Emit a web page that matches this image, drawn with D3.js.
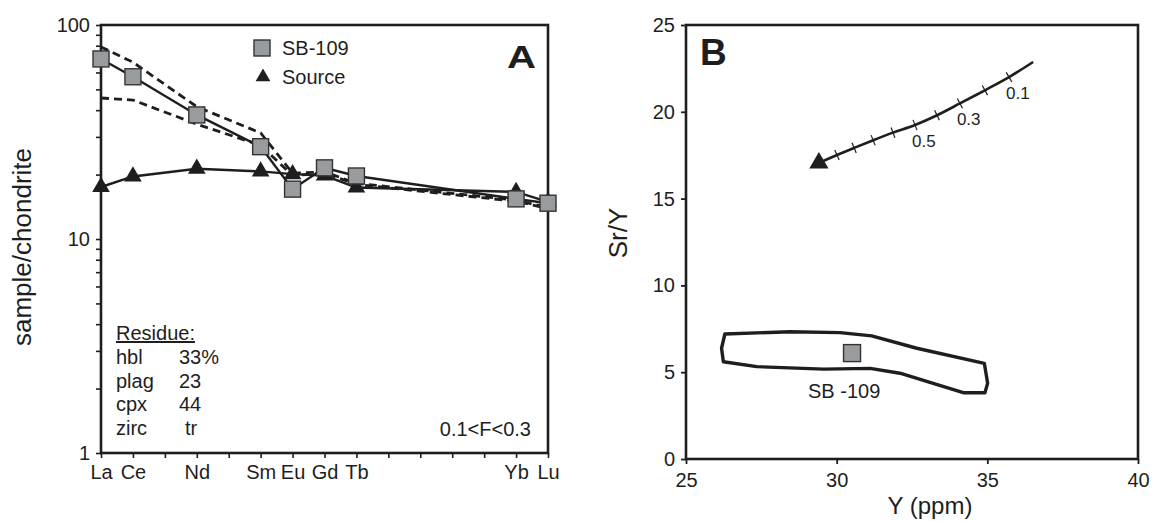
<!DOCTYPE html>
<html><head><meta charset="utf-8">
<script src="https://cdn.jsdelivr.net/npm/d3@7"></script>
<style>body{margin:0;background:#fff}svg{display:block;font-family:"Liberation Sans",Arial,Helvetica,sans-serif}</style>
</head><body><svg id="c" width="1154" height="521"></svg>
<script>
// ---------- Panel A data ----------
const reeAll = ["La","Ce","Pr","Nd","Pm","Sm","Eu","Gd","Tb","Dy","Ho","Er","Tm","Yb","Lu"];
const elements = ["La","Ce","Nd","Sm","Eu","Gd","Tb","Yb","Lu"];
const sb109 = [69.4, 57.3, 38.0, 27.0, 17.1, 21.5, 19.7, 15.4, 14.7];
const source = [17.5, 19.6, 21.3, 20.7, 20.1, 19.8, 17.4, 16.6, 14.9];
const modelUpper = [79.0, 67.0, 41.5, 31.3, 20.3, 20.6, 18.2, 15.2, 14.0];
const modelLower = [45.6, 44.6, 34.4, 27.4, 19.8, 20.3, 18.0, 15.0, 13.9];
const yTicksA = [1,2,3,4,5,6,7,8,9,10,20,30,40,50,60,70,80,90,100];
const yLabelsA = [1,10,100];
const residueMinerals = ["hbl","plag","cpx","zirc"];
const residueAmounts = ["33%","23","44","tr"];
// ---------- Panel B data ----------
const meltF   = [1.0, 0.9, 0.8, 0.7, 0.6, 0.5, 0.4, 0.3, 0.2, 0.1, 0.05];
const meltY   = [29.41, 30.01, 30.58, 31.21, 31.87, 32.60, 33.33, 34.09, 34.92, 35.72, 36.52];
const meltSrY = [17.05, 17.51, 17.92, 18.36, 18.80, 19.24, 19.80, 20.48, 21.24, 22.00, 22.87];
const meltLabels = ["0.1","0.3","0.5"];
const fieldY   = [26.29, 28.45, 30.11, 31.16, 32.66, 34.90, 35.01, 34.92, 34.20, 32.10, 31.11, 29.56, 27.35, 26.24, 26.18];
const fieldSrY = [7.20, 7.33, 7.28, 7.09, 6.38, 5.51, 4.36, 3.82, 3.82, 4.94, 5.22, 5.18, 5.32, 5.60, 6.38];
const sampleY = [30.51], sampleSrY = [6.1];
const xTicksB = [25,30,35,40];
const yTicksB = [0,5,10,15,20,25];

const svg = d3.select("#c");
const ink = "#1e1e1e", grey = "#989c9e";

// ================= Panel A =================
const A = {l:101, r:548, t:25, b:453};
const xA = d3.scaleLinear().domain([0, reeAll.length-1]).range([A.l, A.r]);
const yA = d3.scaleLog().domain([1,100]).range([A.b, A.t]);
const ix = e => reeAll.indexOf(e);

const gA = svg.append("g");
const axA = gA.append("g").attr("transform",`translate(0,${A.b})`)
  .call(d3.axisBottom(xA).tickValues(d3.range(reeAll.length)).tickSize(5).tickPadding(7)
    .tickFormat(i => elements.includes(reeAll[i]) ? reeAll[i] : ""));
const ayA = gA.append("g").attr("transform",`translate(${A.l},0)`)
  .call(d3.axisLeft(yA).tickValues(yTicksA).tickSize(5).tickPadding(6)
    .tickFormat(v => yLabelsA.includes(v) ? String(v) : ""));
[axA, ayA].forEach(g => {
  g.select(".domain").remove();
  g.selectAll(".tick line").attr("stroke", ink).attr("stroke-width", 1.6);
  g.selectAll(".tick text").attr("fill", ink).style("font-size","20px").style("font-family","Liberation Sans, Arial, sans-serif");
});
gA.append("rect").attr("x",A.l).attr("y",A.t).attr("width",A.r-A.l).attr("height",A.b-A.t)
  .attr("fill","none").attr("stroke",ink).attr("stroke-width",2.6);

const lineA = vals => d3.line().x((d,i)=>xA(ix(elements[i]))).y(d=>yA(d))(vals);
[modelUpper, modelLower].forEach(v => gA.append("path").attr("d", lineA(v))
  .attr("fill","none").attr("stroke",ink).attr("stroke-width",2.8).attr("stroke-dasharray","8,5"));
gA.append("path").attr("d", lineA(sb109)).attr("fill","none").attr("stroke",ink).attr("stroke-width",2.4);
gA.append("path").attr("d", lineA(source)).attr("fill","none").attr("stroke",ink).attr("stroke-width",2.4);

const tri = d3.symbol().type(d3.symbolTriangle).size(135);
gA.selectAll(".srcpt").data(source).join("path").attr("class","srcpt")
  .attr("d", tri).attr("transform",(d,i)=>`translate(${xA(ix(elements[i]))},${yA(d)})`).attr("fill",ink);
const sq = 16;
gA.selectAll(".sbpt").data(sb109).join("rect").attr("class","sbpt")
  .attr("x",(d,i)=>xA(ix(elements[i]))-sq/2).attr("y",d=>yA(d)-sq/2).attr("width",sq).attr("height",sq)
  .attr("fill",grey).attr("stroke","#333").attr("stroke-width",1.4);

// legend
gA.append("rect").attr("x",254).attr("y",40).attr("width",sq).attr("height",sq).attr("fill",grey).attr("stroke","#333").attr("stroke-width",1.4);
gA.append("text").attr("x",282).attr("y",55).text("SB-109").style("font-size","20px").attr("fill",ink);
gA.append("path").attr("d", d3.symbol().type(d3.symbolTriangle).size(95)).attr("transform","translate(263,77)").attr("fill",ink);
gA.append("text").attr("x",282).attr("y",84).text("Source").style("font-size","20px").attr("fill",ink);
gA.append("text").attr("x",507).attr("y",68).text("A").style("font-size","32px").style("font-weight","bold")
  .attr("textLength",29).attr("lengthAdjust","spacingAndGlyphs").attr("fill",ink);

// residue box
gA.append("text").attr("x",116).attr("y",340).text("Residue:").style("font-size","20px").style("text-decoration","underline").attr("fill",ink);
residueMinerals.forEach((m,i)=>{
  gA.append("text").attr("x",116).attr("y",364+i*23.7).text(m).style("font-size","20px").attr("fill",ink);
  gA.append("text").attr("x", residueAmounts[i]==="tr"?185:179).attr("y",364+i*23.7).text(residueAmounts[i]).style("font-size","20px").attr("fill",ink);
});
gA.append("text").attr("x",531).attr("y",436).attr("text-anchor","end").text("0.1<F<0.3").style("font-size","20px").attr("fill",ink);
gA.append("text").attr("transform","translate(31,247) rotate(-90)").attr("text-anchor","middle")
  .text("sample/chondrite").style("font-size","26px").attr("fill",ink);

// ================= Panel B =================
const B = {l:686, r:1138, t:25, b:459};
const xB = d3.scaleLinear().domain([25,40]).range([B.l,B.r]);
const yB = d3.scaleLinear().domain([0,25]).range([B.b,B.t]);
const gB = svg.append("g");
const axB = gB.append("g").attr("transform",`translate(0,${B.b})`)
  .call(d3.axisBottom(xB).tickValues(xTicksB).tickSize(5).tickPadding(9).tickFormat(d3.format("d")));
const ayB = gB.append("g").attr("transform",`translate(${B.l},0)`)
  .call(d3.axisLeft(yB).tickValues(yTicksB).tickSize(5).tickPadding(6).tickFormat(d3.format("d")));
[axB, ayB].forEach(g => {
  g.select(".domain").remove();
  g.selectAll(".tick line").attr("stroke", ink).attr("stroke-width", 1.8);
  g.selectAll(".tick text").attr("fill", ink).style("font-size","20px").style("font-family","Liberation Sans, Arial, sans-serif");
});
gB.append("rect").attr("x",B.l).attr("y",B.t).attr("width",B.r-B.l).attr("height",B.b-B.t)
  .attr("fill","none").attr("stroke",ink).attr("stroke-width",2.6);
gB.append("text").attr("x",700).attr("y",65).text("B").style("font-size","37px").style("font-weight","bold").attr("fill",ink);
gB.append("text").attr("x",(B.l+B.r)/2 + 18).attr("y",514).attr("text-anchor","middle").text("Y (ppm)").style("font-size","24px").attr("fill",ink);
gB.append("text").attr("transform","translate(627,233) rotate(-90)").attr("text-anchor","middle").text("Sr/Y").style("font-size","26px").attr("fill",ink);

// field envelope
const fieldPts = fieldY.map((v,i)=>[xB(v), yB(fieldSrY[i])]);
gB.append("path").attr("d", d3.line().curve(d3.curveLinearClosed)(fieldPts))
  .attr("fill","none").attr("stroke",ink).attr("stroke-width",3.4).attr("stroke-linejoin","round");
gB.selectAll(".sbB").data(sampleY).join("rect").attr("class","sbB")
  .attr("x",d=>xB(d)-8.5).attr("y",(d,i)=>yB(sampleSrY[i])-8.5).attr("width",17).attr("height",17)
  .attr("fill",grey).attr("stroke","#333").attr("stroke-width",1.4);
gB.append("text").attr("x",808).attr("y",398).text("SB -109").style("font-size","20px").attr("fill",ink);

// melting curve
const meltPts = meltY.map((v,i)=>[xB(v), yB(meltSrY[i])]);
gB.append("path").attr("d", d3.line().curve(d3.curveCatmullRom)(meltPts))
  .attr("fill","none").attr("stroke",ink).attr("stroke-width",2.6);
for (let i=1;i<=9;i++){
  const p = meltPts[i], a = meltPts[i-1], c = meltPts[i+1];
  let tx = c[0]-a[0], ty = c[1]-a[1]; const L = Math.hypot(tx,ty); tx/=L; ty/=L;
  const nx = -ty, ny = tx, h = 5.5;
  gB.append("line").attr("x1",p[0]-nx*h).attr("y1",p[1]-ny*h).attr("x2",p[0]+nx*h).attr("y2",p[1]+ny*h)
    .attr("stroke",ink).attr("stroke-width",1.2);
}
meltLabels.forEach(lbl=>{
  const i = meltF.indexOf(+lbl);
  const p = meltPts[i];
  gB.append("text").attr("x",p[0]-3).attr("y",p[1]+22).text(lbl).style("font-size","17px").attr("fill",ink);
});
gB.append("path").attr("d", d3.symbol().type(d3.symbolTriangle).size(160))
  .attr("transform",`translate(${meltPts[0][0]},${meltPts[0][1]})`).attr("fill",ink);
</script></body></html>
